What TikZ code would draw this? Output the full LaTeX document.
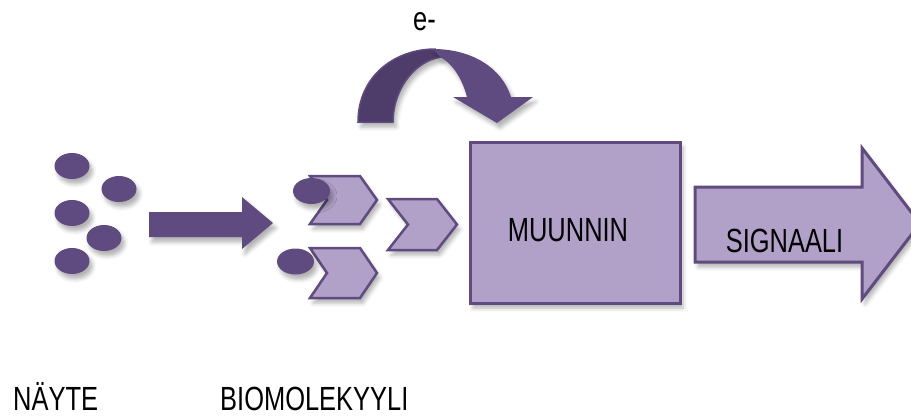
\documentclass[tikz,border=0pt]{standalone}
\usepackage{fontspec}
\setmainfont[FakeStretch=0.76]{Liberation Sans}
\usetikzlibrary{shadows.blur}
\definecolor{plum}{RGB}{95,75,127}
\definecolor{plumdark}{RGB}{78,60,106}
\definecolor{lilac}{RGB}{177,160,199}
\tikzset{
  soft/.style={blur shadow={shadow xshift=3pt, shadow yshift=-5pt,
      shadow blur radius=4pt, shadow opacity=30}},
  dot/.style={fill=plum, soft},
  chev/.style={fill=lilac, draw=plum, line width=2.5pt, line join=miter, soft},
  panel/.style={fill=lilac, draw=plum, line width=3pt, soft},
  lbl/.style={font=\fontsize{33.5}{38}\selectfont, inner sep=0pt, text=black},
}
% chevron: left x, top y, bottom y, tip x, depth
\newcommand{\chevron}[5]{%
  \path[chev] (#1,#2) -- (#4-#5,#2) -- (#4,{(#2+#3)/2}) -- (#4-#5,#3)
    -- (#1,#3) -- (#1+#5,{(#2+#3)/2}) -- cycle;}
\begin{document}
\begin{tikzpicture}[x=1pt, y=-1pt]
\useasboundingbox (0,0) rectangle (911,416);
\clip (0,0) rectangle (911,416);

% sample particles
\fill[dot] (72,166) ellipse [x radius=17.5, y radius=13];
\fill[dot] (119,189) ellipse [x radius=17.5, y radius=13];
\fill[dot] (72,213) ellipse [x radius=17.5, y radius=13];
\fill[dot] (104,238) ellipse [x radius=17.5, y radius=13];
\fill[dot] (72,261) ellipse [x radius=17.5, y radius=13];

% block arrow towards the receptors
\fill[dot] (149,212) -- (242,212) -- (242,197) -- (273,223) -- (242,249)
  -- (242,237) -- (149,237) -- cycle;

% receptor chevrons with bound particles
\chevron{310}{176}{224}{377}{17}
\fill[dot] (311.5,191) ellipse [x radius=18.5, y radius=13];
\chevron{310}{248}{298}{377}{17}
\fill[dot] (295.5,261.5) ellipse [x radius=18.5, y radius=13];
\chevron{388}{199}{250}{457}{20}

% curved electron arrow: back part, then front part with head
\path[fill=plumdark, draw=plum, line width=1.5pt, soft]
  (358,122) .. controls (358,76) and (395,49) .. (435,49)
  -- (441,57) .. controls (412,62) and (393,92) .. (393,122) -- cycle;
\path[fill=plum, soft]
  (433,49) .. controls (472,49) and (502,68) .. (511,97)
  -- (533,97) -- (497,123) -- (453,97) -- (467,97)
  .. controls (462,78) and (452,63) .. (440,57) -- cycle;

% transducer block
\path[panel] (470,142) rectangle (680,303);
\node[lbl, anchor=base] (muunnin) at (568,241) {MUUNNIN};

% signal arrow
\path[panel] (695,187) -- (862,187) -- (862,148) -- (920,223.5)
  -- (862,299) -- (862,262) -- (695,262) -- cycle;
\node[lbl, anchor=base] (signaali) at (784.5,252) {SIGNAALI};

% labels
\node[lbl, anchor=base] (elektroni) at (424.5,30) {e-};
\node[lbl, anchor=base west] (nayte) at (13,410) {NÄYTE};
\node[lbl, anchor=base west] (biomol) at (220,410) {BIOMOLEKYYLI};
\end{tikzpicture}
\end{document}
